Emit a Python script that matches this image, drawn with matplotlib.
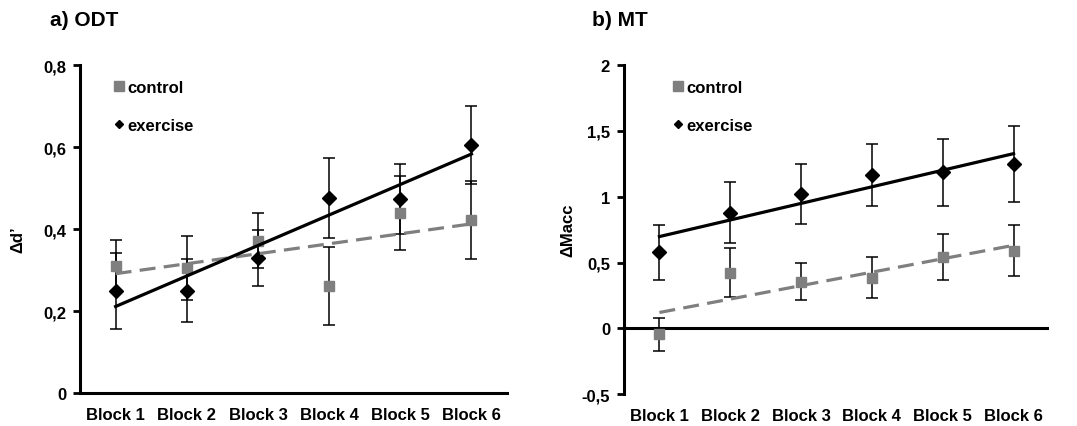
import numpy as np
import matplotlib
matplotlib.use("Agg")
import matplotlib.pyplot as plt
from matplotlib.lines import Line2D
from matplotlib.ticker import FuncFormatter

plt.rcParams['font.family'] = ['Liberation Sans', 'DejaVu Sans']
plt.rcParams['font.weight'] = 'bold'
plt.rcParams['font.size'] = 12

blocks = ['Block 1', 'Block 2', 'Block 3', 'Block 4', 'Block 5', 'Block 6']

# a) ODT
odt_control = [0.311, 0.305, 0.372, 0.261, 0.439, 0.423]
odt_control_err = [0.063, 0.078, 0.066, 0.094, 0.090, 0.095]
odt_exercise = [0.248, 0.250, 0.329, 0.476, 0.474, 0.605]
odt_exercise_err = [0.093, 0.077, 0.068, 0.098, 0.085, 0.094]

# b) MT
mt_control = [-0.046, 0.423, 0.355, 0.385, 0.545, 0.590]
mt_control_err = [0.127, 0.186, 0.140, 0.158, 0.175, 0.196]
mt_exercise = [0.578, 0.879, 1.021, 1.163, 1.185, 1.249]
mt_exercise_err = [0.210, 0.233, 0.230, 0.235, 0.254, 0.287]

gray = '#7f7f7f'


def comma(v, pos):
    s = ('%.1f' % v).rstrip('0').rstrip('.') if v != 0 else '0'
    return s.replace('.', ',')


def panel(ax, control, cerr, exercise, eerr, ylim, yticks, ylabel, leg_x, lab_pos):
    x = np.arange(1, len(blocks) + 1)
    ax.errorbar(x, control, yerr=cerr, fmt='none', ecolor='black', elinewidth=1.1,
                capsize=4, capthick=1.1, zorder=2)
    ax.errorbar(x, exercise, yerr=eerr, fmt='none', ecolor='black', elinewidth=1.1,
                capsize=4, capthick=1.1, zorder=2)
    ax.plot(x, control, 's', color=gray, ms=7.5, zorder=3)
    ax.plot(x, exercise, 'D', color='black', ms=7, zorder=4)

    # linear trendlines
    pc = np.polyfit(x, control, 1)
    pe = np.polyfit(x, exercise, 1)
    ax.plot(x, np.polyval(pc, x), '--', color=gray, lw=2.3, dashes=(5, 2.6), zorder=5)
    ax.plot(x, np.polyval(pe, x), '-', color='black', lw=2.3, zorder=5)

    ax.set_xlim(0.5, 6.5)
    ax.set_ylim(*ylim)
    ax.set_yticks(yticks)
    ax.yaxis.set_major_formatter(FuncFormatter(comma))
    ax.set_xticks(x)
    ax.set_xticklabels(blocks)
    ax.tick_params(axis='x', length=0, pad=10, labelsize=12)
    ax.tick_params(axis='y', length=5, width=2, direction='out', pad=5, labelsize=12)
    for s in ['top', 'right']:
        ax.spines[s].set_visible(False)
    ax.spines['left'].set_linewidth(2.2)
    ax.spines['bottom'].set_linewidth(2.2)
    ax.set_ylabel(ylabel, fontsize=12, fontweight='bold')
    ax.yaxis.set_label_coords(*lab_pos)

    handles = [Line2D([], [], ls='none', marker='s', color=gray, ms=6.5),
               Line2D([], [], ls='none', marker='D', color='black', ms=4.5)]
    ax.legend(handles, ['control', 'exercise'], loc='upper left',
              bbox_to_anchor=(leg_x, 1.0), frameon=False, handlelength=0.6,
              handletextpad=0.2, labelspacing=1.35, fontsize=12)


fig = plt.figure(figsize=(10.77, 4.27), dpi=100)
ax1 = fig.add_axes([0.0743, 0.0773, 0.3965, 0.768])
ax2 = fig.add_axes([0.5794, 0.0749, 0.3946, 0.770])

panel(ax1, odt_control, odt_control_err, odt_exercise, odt_exercise_err,
      (0, 0.8), [0, 0.2, 0.4, 0.6, 0.8], 'Δd’', 0.045, (-0.129, 0.47))
panel(ax2, mt_control, mt_control_err, mt_exercise, mt_exercise_err,
      (-0.5, 2), [-0.5, 0, 0.5, 1, 1.5, 2], 'ΔMacc', 0.08, (-0.115, 0.5))

# right panel: x axis line at zero
ax2.spines['bottom'].set_visible(False)
ax2.axhline(0, color='black', lw=2.2, zorder=1)

fig.text(50 / 1077, 1 - 20 / 427, 'a) ODT', fontsize=15, fontweight='bold', va='center')
fig.text(592 / 1077, 1 - 20 / 427, 'b) MT', fontsize=15, fontweight='bold', va='center')

fig.savefig('out.png', dpi=100)
